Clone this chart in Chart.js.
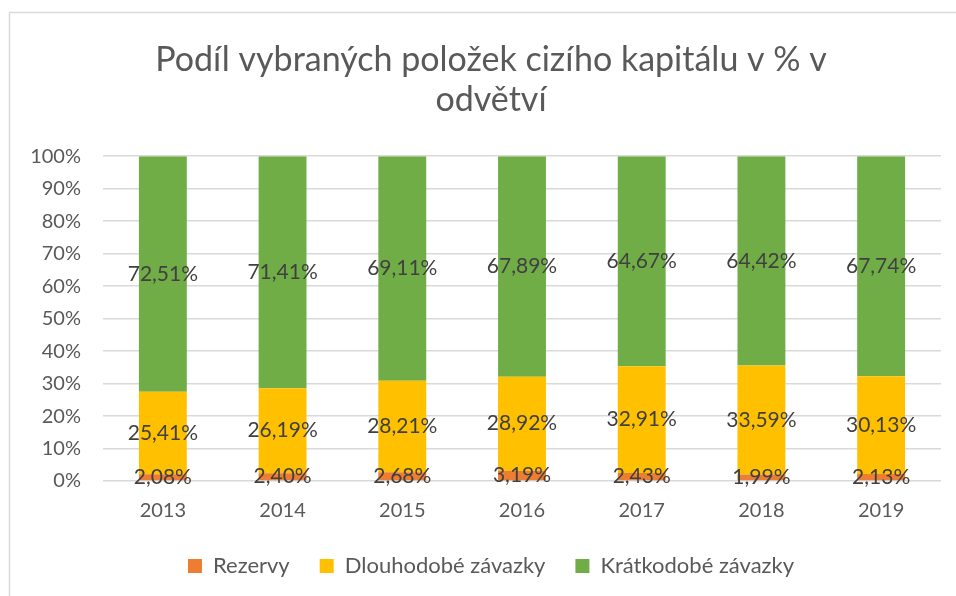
<!DOCTYPE html>
<html lang="cs">
<head>
<meta charset="utf-8">
<script src="https://cdn.jsdelivr.net/npm/chart.js@4"></script>
<style>
  html, body { margin: 0; padding: 0; background: #fff; }
  #wrap { position: relative; width: 956px; height: 596px; }
  canvas { display: block; }
</style>
</head>
<body>
<div id="wrap"><canvas id="c" width="956" height="596"></canvas></div>
<script>
// Roky a podíly jednotlivých položek cizího kapitálu (v %)
const roky = ['2013', '2014', '2015', '2016', '2017', '2018', '2019'];
const rezervy = [2.08, 2.40, 2.68, 3.19, 2.43, 1.99, 2.13];
const dlouhodobeZavazky = [25.41, 26.19, 28.21, 28.92, 32.91, 33.59, 30.13];
const kratkodobeZavazky = [72.51, 71.41, 69.11, 67.89, 64.67, 64.42, 67.74];
const nazvySerii = ['Rezervy', 'Dlouhodobé závazky', 'Krátkodobé závazky'];
const titulek = ['Podíl vybraných položek cizího kapitálu v % v', 'odvětví'];

const FONT = 'Lato, "Open Sans", "DejaVu Sans", sans-serif';

// Formát čísla s desetinnou čárkou
const fmt = v => v.toFixed(2).replace('.', ',') + '%';

// Rámeček a bílé pozadí grafu
const ramecek = {
  id: 'ramecek',
  beforeDraw(chart) {
    const ctx = chart.ctx;
    ctx.save();
    ctx.fillStyle = '#ffffff';
    ctx.fillRect(0, 0, chart.width, chart.height);
    ctx.strokeStyle = '#d9d9d9';
    ctx.lineWidth = 1.5;
    ctx.beginPath();
    ctx.moveTo(9.5, chart.height);
    ctx.lineTo(9.5, 12.5);
    ctx.lineTo(chart.width, 12.5);
    ctx.stroke();
    ctx.restore();
  }
};

// Titulek a legenda se centrují na celý rámeček, ne jen na plátno
const vystredeni = {
  id: 'vystredeni',
  afterLayout(chart) {
    if (chart.titleBlock) chart.titleBlock.left += 41;
    if (chart.legend) chart.legend.left += 41;
  }
};

// Popisky hodnot uprostřed jednotlivých segmentů
const popisky = {
  id: 'popisky',
  afterDatasetsDraw(chart) {
    const ctx = chart.ctx;
    ctx.save();
    ctx.font = '21px ' + FONT;
    ctx.fillStyle = '#404040';
    ctx.textAlign = 'center';
    ctx.textBaseline = 'middle';
    chart.data.datasets.forEach((ds, i) => {
      const meta = chart.getDatasetMeta(i);
      meta.data.forEach((el, j) => {
        const p = el.getProps(['x', 'y', 'base'], true);
        ctx.fillText(fmt(ds.data[j]), p.x, (p.y + p.base) / 2);
      });
    });
    ctx.restore();
  }
};

new Chart(document.getElementById('c'), {
  type: 'bar',
  data: {
    labels: roky,
    datasets: [
      { label: nazvySerii[0], data: rezervy, backgroundColor: '#ED7D31' },
      { label: nazvySerii[1], data: dlouhodobeZavazky, backgroundColor: '#FFC000' },
      { label: nazvySerii[2], data: kratkodobeZavazky, backgroundColor: '#70AD47' }
    ]
  },
  options: {
    responsive: false,
    animation: false,
    layout: { padding: { left: 0, right: 15, top: 40, bottom: 9 } },
    datasets: {
      bar: { categoryPercentage: 1, barPercentage: 0.4, borderWidth: 0 }
    },
    scales: {
      x: {
        stacked: true,
        grid: { display: false },
        border: { display: false },
        ticks: { color: '#595959', font: { family: FONT, size: 20 }, padding: 10 },
        afterFit(s) { s.height = 44; }
      },
      y: {
        stacked: true,
        min: 0,
        max: 100,
        grid: { color: '#d9d9d9', lineWidth: 1.5, drawTicks: false },
        border: { display: false },
        ticks: {
          stepSize: 10,
          color: '#595959',
          font: { family: FONT, size: 20 },
          padding: 22,
          callback: v => v + '%'
        },
        afterFit(s) { s.width = 103; }
      }
    },
    plugins: {
      title: {
        display: true,
        text: titulek,
        color: '#595959',
        font: { family: FONT, size: 34, weight: '400', lineHeight: 1.18 },
        padding: { top: 0, bottom: 36 }
      },
      legend: {
        position: 'bottom',
        labels: {
          color: '#595959',
          font: { family: FONT, size: 22 },
          boxWidth: 14,
          boxHeight: 14,
          padding: 30
        }
      },
      tooltip: { enabled: false }
    }
  },
  plugins: [ramecek, vystredeni, popisky]
});
</script>
</body>
</html>
